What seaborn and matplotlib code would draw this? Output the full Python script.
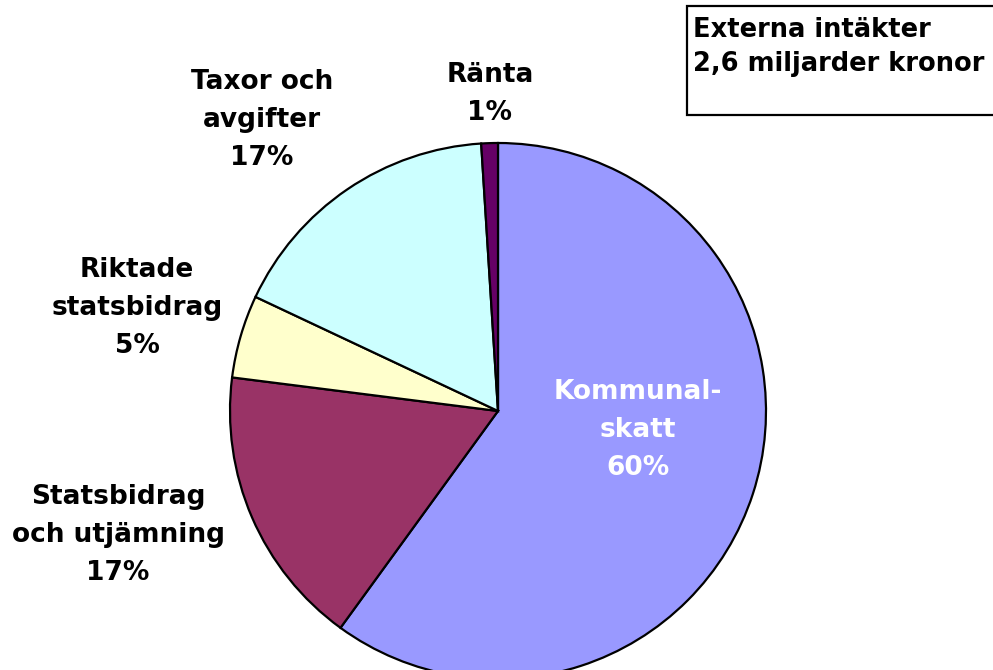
import matplotlib
matplotlib.use("Agg")
import matplotlib.pyplot as plt
import seaborn as sns
from matplotlib.patches import Rectangle

categories = ["Kommunal-\nskatt", "Statsbidrag\noch utjämning", "Riktade\nstatsbidrag",
              "Taxor och\navgifter", "Ränta"]
values = [60, 17, 5, 17, 1]
colors = ["#9999FF", "#993366", "#FFFFCC", "#CCFFFF", "#660066"]
label_colors = ["white", "black", "black", "black", "black"]
# label centers in figure pixels (x, y from top)
label_pos = [(638, 430), (118, 535), (137, 308), (262, 120), (490, 94)]
title_lines = ["Externa intäkter", "2,6 miljarder kronor"]

sns.set_style("white")
plt.rcParams["font.family"] = ["DejaVu Sans"]

W, H = 993, 670
fig = plt.figure(figsize=(W / 100, H / 100), dpi=100)
fig.patch.set_facecolor("white")

cx, cy, r = 498, 411, 268
ax = fig.add_axes([(cx - r) / W, (H - cy - r) / H, 2 * r / W, 2 * r / H])
wedges, _ = ax.pie(values, colors=colors, startangle=90, counterclock=False,
                   radius=1.0, wedgeprops=dict(edgecolor="black", linewidth=1.6))
for w in wedges:
    w.set_clip_on(False)
ax.set_xlim(-1, 1)
ax.set_ylim(-1, 1)
ax.set_aspect("equal")
ax.axis("off")

for cat, v, col, (px, py) in zip(categories, values, label_colors, label_pos):
    fig.text(px / W, 1 - py / H, f"{cat}\n{v}%", ha="center", va="center",
             fontsize=19, fontweight="bold", color=col, linespacing=1.58)

# title box
fig.patches.append(Rectangle((687 / W, 1 - 115 / H), (W + 20 - 687) / W, (115 - 6) / H,
                             transform=fig.transFigure, facecolor="white",
                             edgecolor="black", linewidth=1.6, clip_on=False))
fig.text(693 / W, 1 - 17 / H, "\n".join(title_lines), ha="left", va="top",
         fontsize=18.5, fontweight="bold", color="black", linespacing=1.42)

fig.savefig("out.png", dpi=100)
